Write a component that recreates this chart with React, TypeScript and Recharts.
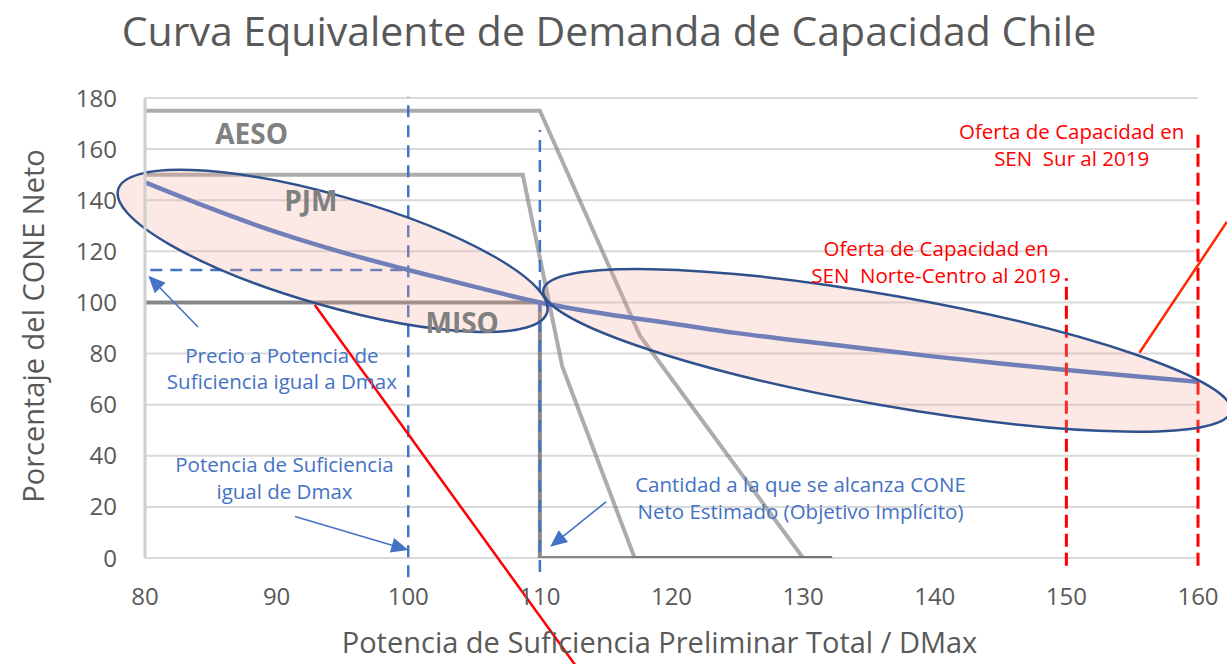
import React from 'react';
import {
  ComposedChart,
  Line,
  XAxis,
  YAxis,
  CartesianGrid,
  ReferenceLine,
  ReferenceDot,
  Label,
} from 'recharts';

const FONT = '"Open Sans", sans-serif';
const GREY_TEXT = '#595959';
const BLUE = '#4472c4';
const RED = '#ff0000';

const xTicks = [80, 90, 100, 110, 120, 130, 140, 150, 160];
const yTicks = [0, 20, 40, 60, 80, 100, 120, 140, 160, 180];

// reference curves (AESO, PJM, MISO)
const aesoX = [80, 110, 117.6, 130, 132.2];
const aesoY = [175, 175, 87, 0, 0];
const pjmX = [80, 108.7, 111.7, 117.2, 132.2];
const pjmY = [150, 150, 75, 0, 0];
const misoX = [80, 110, 110, 132.2];
const misoY = [100, 100, 0, 0];

// equivalent Chile demand curve
const chileX = [80, 85, 90, 95, 100, 105, 110, 115, 120, 125, 130, 135, 140, 145, 150, 155, 160];
const chileY = [147, 136.8, 127.5, 119.6, 112.7, 106.2, 100, 95.5, 91.8, 88, 84.8, 81.8, 78.8, 76.1, 73.6, 71.2, 69];

// ellipses drawn along their major axis [x1, y1, x2, y2]
const ellipseAxes = [
  [77.96, 144.2, 110.55, 96.1],
  [110.27, 105.0, 162.5, 57.5],
];

// blue arrows [tailX, tailY, tipX, tipY]
const arrows = [
  [84.03, 90.4, 80.25, 110.4],
  [91.4, 16.2, 100, 3.1],
  [115.03, 22.0, 110.78, 4.4],
];

// red callout lines
const redLines = [
  [92.9, 99.0, 112.7, -42],
  [155.55, 80.3, 162.2, 131.6],
];

const pts = (xs: number[], ys: number[]) => xs.map((x, i) => ({ x, y: ys[i] }));

const EllipseShape = (props: any) => {
  const { x1, y1, x2, y2 } = props;
  const cx = (x1 + x2) / 2;
  const cy = (y1 + y2) / 2;
  const rx = Math.hypot(x2 - x1, y2 - y1) / 2;
  const angle = (Math.atan2(y2 - y1, x2 - x1) * 180) / Math.PI;
  return (
    <ellipse
      cx={cx}
      cy={cy}
      rx={rx}
      ry={55}
      transform={`rotate(${angle} ${cx} ${cy})`}
      fill="#f4a898"
      fillOpacity={0.26}
      stroke="#2f528f"
      strokeWidth={2.5}
    />
  );
};

const ArrowShape = (props: any) => {
  const { x1, y1, x2, y2 } = props;
  const ang = Math.atan2(y2 - y1, x2 - x1);
  const len = 17;
  const half = 7.5;
  const bx = x2 - len * Math.cos(ang);
  const by = y2 - len * Math.sin(ang);
  const px = -Math.sin(ang) * half;
  const py = Math.cos(ang) * half;
  return (
    <g>
      <line x1={x1} y1={y1} x2={bx} y2={by} stroke={BLUE} strokeWidth={1.6} />
      <polygon points={`${x2},${y2} ${bx + px},${by + py} ${bx - px},${by - py}`} fill={BLUE} />
    </g>
  );
};

const textBlock = (lines: string[], color: string, size: number, lh: number, weight = 400) => (props: any) => {
  const { cx, cy } = props;
  const top = cy - ((lines.length - 1) * lh) / 2;
  return (
    <text
      textAnchor="middle"
      fill={color}
      fontSize={size}
      fontFamily={FONT}
      fontWeight={weight}
      style={{ whiteSpace: 'pre' }}
    >
      {lines.map((l, i) => (
        <tspan key={i} x={cx} y={top + i * lh} dominantBaseline="central">
          {l}
        </tspan>
      ))}
    </text>
  );
};

const notes = [
  { x: 88.1, y: 166.3, lines: ['AESO'], color: '#808080', size: 28, lh: 0, weight: 700 },
  { x: 92.6, y: 140, lines: ['PJM'], color: '#808080', size: 28, lh: 0, weight: 700 },
  { x: 104.1, y: 92.3, lines: ['MISO'], color: '#808080', size: 28, lh: 0, weight: 700 },
  { x: 90.4, y: 74.3, lines: ['Precio a Potencia de', 'Suficiencia igual a Dmax'], color: BLUE, size: 20.5, lh: 26, weight: 400 },
  { x: 90.6, y: 31.5, lines: ['Potencia de Suficiencia', 'igual de Dmax'], color: BLUE, size: 20.5, lh: 27, weight: 400 },
  { x: 129.8, y: 23.7, lines: ['Cantidad a la que se alcanza CONE', 'Neto Estimado (Objetivo Implícito)'], color: BLUE, size: 20.5, lh: 27, weight: 400 },
  { x: 150.4, y: 161.8, lines: ['Oferta de Capacidad en', 'SEN  Sur al 2019'], color: RED, size: 20.5, lh: 27, weight: 400 },
  { x: 140.1, y: 116.0, lines: ['Oferta de Capacidad en', 'SEN  Norte-Centro al 2019'], color: RED, size: 20.5, lh: 27, weight: 400 },
];

const tickStyle = { fill: GREY_TEXT, fontSize: 24, fontFamily: FONT };

export default function App() {
  return (
    <div style={{ position: 'absolute', left: 0, top: 0, width: 1227, height: 664, background: '#fff' }}>
      <div
        style={{
          position: 'absolute',
          left: 0,
          top: 7,
          width: 1218,
          textAlign: 'center',
          fontFamily: FONT,
          fontSize: 41,
          lineHeight: '46px',
          color: GREY_TEXT,
        }}
      >
        Curva Equivalente de Demanda de Capacidad Chile
      </div>
      <ComposedChart width={1227} height={664} margin={{ top: 98, right: 29, bottom: 46, left: 0 }}>
        <CartesianGrid horizontal vertical={false} stroke="#d9d9d9" strokeWidth={2} />
        <XAxis
          type="number"
          dataKey="x"
          domain={[80, 160]}
          ticks={xTicks}
          allowDataOverflow
          height={60}
          tickLine={false}
          tickSize={0}
          tickMargin={30}
          axisLine={false}
          tick={tickStyle}
        >
          <Label
            content={({ viewBox }: any) => (
              <text
                x={viewBox.x + viewBox.width / 2 - 12}
                y={viewBox.y + 95}
                textAnchor="middle"
                fill={GREY_TEXT}
                fontSize={29}
                fontFamily={FONT}
              >
                Potencia de Suficiencia Preliminar Total / DMax
              </text>
            )}
          />
        </XAxis>
        <YAxis
          type="number"
          domain={[0, 180]}
          ticks={yTicks}
          allowDataOverflow
          width={145}
          tickLine={false}
          tickSize={0}
          tickMargin={28}
          axisLine={{ stroke: '#cfcfcf', strokeWidth: 3 }}
          tick={tickStyle}
        >
          <Label
            content={({ viewBox }: any) => {
              const cx = viewBox.x + 32;
              const cy = viewBox.y + viewBox.height / 2 - 2;
              return (
                <text
                  x={cx}
                  y={cy}
                  transform={`rotate(-90 ${cx} ${cy})`}
                  textAnchor="middle"
                  dominantBaseline="central"
                  fill={GREY_TEXT}
                  fontSize={29}
                  fontFamily={FONT}
                >
                  Porcentaje del CONE Neto
                </text>
              );
            }}
          />
        </YAxis>

        <Line data={pts(aesoX, aesoY)} dataKey="y" type="linear" stroke="#7f7f7f" strokeOpacity={0.65} strokeWidth={4} dot={false} isAnimationActive={false} />
        <Line data={pts(pjmX, pjmY)} dataKey="y" type="linear" stroke="#7f7f7f" strokeOpacity={0.65} strokeWidth={4} dot={false} isAnimationActive={false} />
        <Line data={pts(misoX, misoY)} dataKey="y" type="linear" stroke="#6f6f6f" strokeOpacity={0.8} strokeWidth={4} dot={false} isAnimationActive={false} />
        <Line data={pts(chileX, chileY)} dataKey="y" type="monotone" stroke={BLUE} strokeWidth={4.5} dot={false} isAnimationActive={false} />

        {/* blue dashed guides */}
        <ReferenceLine segment={[{ x: 100, y: -7.5 }, { x: 100, y: 180.5 }]} stroke={BLUE} strokeWidth={2.5} strokeDasharray="12 8" ifOverflow="visible" />
        <ReferenceLine segment={[{ x: 110, y: -5.5 }, { x: 110, y: 167.5 }]} stroke={BLUE} strokeWidth={2.5} strokeDasharray="12 8" ifOverflow="visible" />
        <ReferenceLine segment={[{ x: 80.4, y: 112.7 }, { x: 100, y: 112.7 }]} stroke={BLUE} strokeWidth={2.5} strokeDasharray="12 8" ifOverflow="visible" />

        {/* red dashed supply lines */}
        <ReferenceLine segment={[{ x: 150, y: -3 }, { x: 150, y: 109.5 }]} stroke={RED} strokeWidth={3} strokeDasharray="13 6" ifOverflow="visible" />
        <ReferenceLine segment={[{ x: 160, y: -3 }, { x: 160, y: 167 }]} stroke={RED} strokeWidth={3} strokeDasharray="13 6" ifOverflow="visible" />

        {ellipseAxes.map((e, i) => (
          <ReferenceLine
            key={`el${i}`}
            segment={[{ x: e[0], y: e[1] }, { x: e[2], y: e[3] }]}
            ifOverflow="visible"
            shape={EllipseShape}
          />
        ))}

        {redLines.map((r, i) => (
          <ReferenceLine
            key={`rl${i}`}
            segment={[{ x: r[0], y: r[1] }, { x: r[2], y: r[3] }]}
            stroke={i === 0 ? RED : '#ff2a00'}
            strokeWidth={2.5}
            ifOverflow="visible"
          />
        ))}

        {arrows.map((a, i) => (
          <ReferenceLine
            key={`ar${i}`}
            segment={[{ x: a[0], y: a[1] }, { x: a[2], y: a[3] }]}
            ifOverflow="visible"
            shape={ArrowShape}
          />
        ))}

        {notes.map((n, i) => (
          <ReferenceDot
            key={`n${i}`}
            x={n.x}
            y={n.y}
            r={0}
            ifOverflow="visible"
            shape={textBlock(n.lines, n.color, n.size, n.lh, n.weight)}
          />
        ))}
      </ComposedChart>
    </div>
  );
}
